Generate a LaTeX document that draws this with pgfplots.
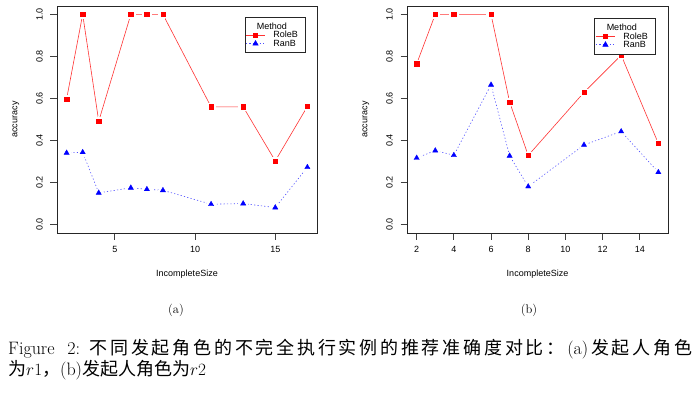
\documentclass[border=0pt]{standalone}
\usepackage{fontspec}
\usepackage{pgfplots}
\usepackage{pgfplotstable}
\pgfplotsset{compat=1.18}
\newfontfamily\chartfont{Liberation Sans}
\newfontfamily\cjk{Noto Sans CJK SC}
\newcommand\cjkgap{\hspace{0pt plus 1fil}}

\pgfplotsset{
 rstyle/.style={
  scale only axis, height=227bp,
  ymin=-0.04, ymax=1.04,
  ytick={0,0.2,0.4,0.6,0.8,1.0},
  tick pos=left, tick align=outside, major tick length=6.5bp,
  axis line style={black!85, line width=0.8bp},
  every tick/.style={black!75, line width=0.8bp},
  /pgf/number format/assume math mode=true,
  every tick label/.append style={font=\chartfont\fontsize{9bp}{10bp}\selectfont},
  yticklabel style={/pgf/number format/fixed, /pgf/number format/fixed zerofill, /pgf/number format/precision=1, rotate=90, anchor=south, inner sep=0pt},
  xticklabel style={anchor=north, inner sep=0pt},
  xticklabel shift=7bp, yticklabel shift=7.5bp,
  label style={font=\chartfont\fontsize{9bp}{10bp}\selectfont},
  xlabel={IncompleteSize}, ylabel={accuracy},
  xlabel style={at={(axis description cs:0.5,-0.1806)}, anchor=center},
  ylabel style={at={(axis description cs:-0.1577,0.5)}, anchor=center},
  legend style={anchor=north east, draw=black!85, fill=white,
    font=\chartfont\fontsize{9bp}{10bp}\selectfont,
    inner xsep=1bp, inner ysep=4.7bp, nodes={inner sep=0pt}, column sep=8bp,
    cells={anchor=west}},
  legend image code/.code={\draw[##1, mark repeat=2, mark phase=2] plot coordinates {(0bp,0bp) (9.5bp,0bp) (19bp,0bp)};},
 },
 roleb/.style={color=red!80, line width=0.6bp, mark=square*, mark size=2.2bp, mark options={solid, fill=red, draw=red}},
 ranb/.style={color=blue!70, line width=0.6bp, dash pattern=on 1.2bp off 2.2bp, mark=triangle*, mark size=3bp, mark options={solid, fill=blue, draw=blue}},
 halo/.style={forget plot, only marks, color=white, mark=*, mark size=4.3bp, mark options={fill=white, draw=white, line width=0pt}},
 rolebm/.style={forget plot, only marks, color=red, mark=square*, mark size=2.2bp, mark options={fill=red, draw=red}},
 ranbm/.style={forget plot, only marks, color=blue, mark=triangle*, mark size=3bp, mark options={fill=blue, draw=blue}},
}

\pgfplotstableread{
x  roleb  ranb
2  0.598  0.341
3  1.0    0.344
4  0.492  0.151
6  1.0    0.175
7  1.0    0.168
8  1.0    0.163
11 0.56   0.097
13 0.56   0.100
15 0.303  0.081
17 0.562  0.273
}\tablea
\pgfplotstableread{
x  roleb  ranb
2  0.765  0.317
3  1.0    0.352
4  1.0    0.330
6  1.0    0.665
7  0.583  0.327
8  0.329  0.181
11 0.629  0.379
13 0.806  0.443
15 0.386  0.249
}\tableb

\begin{document}
\begin{tikzpicture}[x=1bp,y=1bp]
\path[use as bounding box] (0,0) rectangle (700,393);

\begin{axis}[rstyle, width=260bp, at={(57bp,160bp)}, anchor=south west,
  xmin=1.4, xmax=17.6, xtick={5,10,15},
  legend style={at={(axis description cs:0.954,0.952)}}]
\addlegendimage{empty legend}
\addlegendentry{\rule[-9bp]{0pt}{16.6bp}\makebox[0pt][l]{\hspace*{-17bp}Method}}
\addplot[roleb] table[x=x,y=roleb] {\tablea};
\addlegendentry{\rule[-3bp]{0pt}{10bp}RoleB\hspace*{6bp}}
\addplot[ranb] table[x=x,y=ranb] {\tablea};
\addlegendentry{\rule[-3bp]{0pt}{10bp}RanB}
\addplot[halo] table[x=x,y=roleb] {\tablea};
\addplot[halo] table[x=x,y=ranb] {\tablea};
\addplot[rolebm] table[x=x,y=roleb] {\tablea};
\addplot[ranbm] table[x=x,y=ranb] {\tablea};
\end{axis}

\begin{axis}[rstyle, width=261bp, at={(407bp,160bp)}, anchor=south west,
  xmin=1.48, xmax=15.52, xtick={2,4,6,8,10,12,14},
  legend style={at={(axis description cs:0.950,0.947)}}]
\addlegendimage{empty legend}
\addlegendentry{\rule[-9bp]{0pt}{16.6bp}\makebox[0pt][l]{\hspace*{-17bp}Method}}
\addplot[roleb] table[x=x,y=roleb] {\tableb};
\addlegendentry{\rule[-3bp]{0pt}{10bp}RoleB\hspace*{6bp}}
\addplot[ranb] table[x=x,y=ranb] {\tableb};
\addlegendentry{\rule[-3bp]{0pt}{10bp}RanB}
\addplot[halo] table[x=x,y=roleb] {\tableb};
\addplot[halo] table[x=x,y=ranb] {\tableb};
\addplot[rolebm] table[x=x,y=roleb] {\tableb};
\addplot[ranbm] table[x=x,y=ranb] {\tableb};
\end{axis}

\node[anchor=base, inner sep=0pt, font=\fontsize{12.5bp}{15bp}\selectfont] at (176,80) {(a)};
\node[anchor=base, inner sep=0pt, font=\fontsize{12.5bp}{15bp}\selectfont] at (529,80) {(b)};

\node[anchor=base west, inner sep=0pt, text width=684bp, align=left, font=\fontsize{18bp}{21bp}\selectfont] at (8,39)
{\makebox[684bp][s]{Figure\hspace{6bp plus 2.4fil}2:\hspace{6bp plus 1.3fil}{\cjk 不\cjkgap 同\cjkgap 发\cjkgap 起\cjkgap 角\cjkgap 色\cjkgap 的\cjkgap 不\cjkgap 完\cjkgap 全\cjkgap 执\cjkgap 行\cjkgap 实\cjkgap 例\cjkgap 的\cjkgap 推\cjkgap 荐\cjkgap 准\cjkgap 确\cjkgap 度\cjkgap 对\cjkgap 比\cjkgap ：}\cjkgap (a)\cjkgap {\cjk 发\cjkgap 起\cjkgap 人\cjkgap 角\cjkgap 色}}\\
{\cjk 为}$r1${\cjk ，}(b){\cjk 发起人角色为}$r2$};
\end{tikzpicture}
\end{document}
